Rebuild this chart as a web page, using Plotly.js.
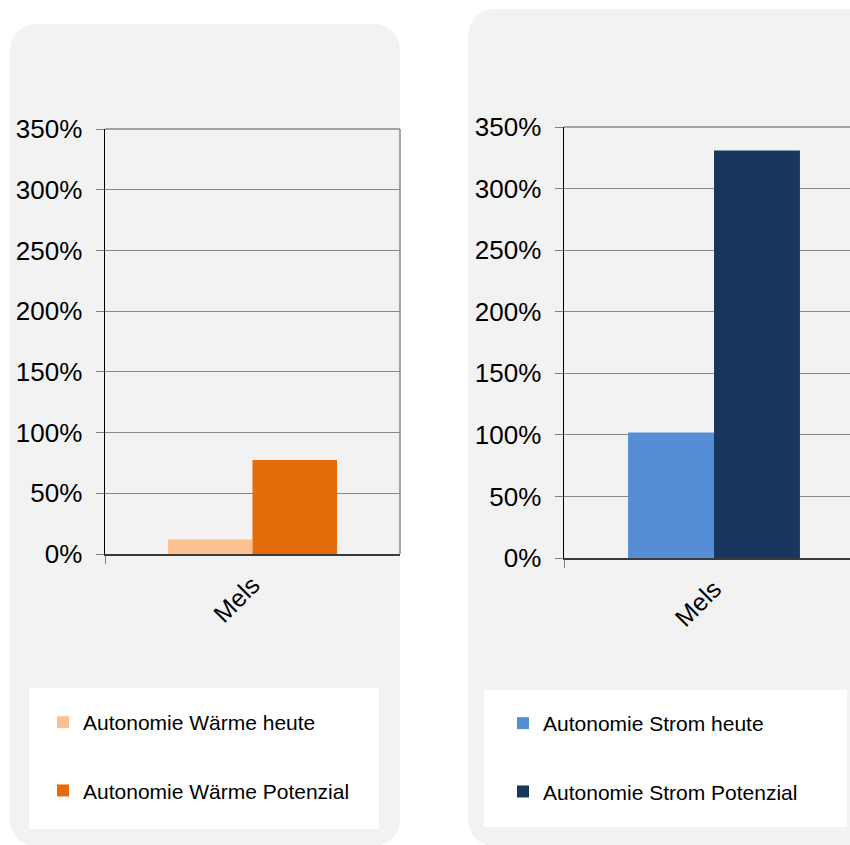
<!DOCTYPE html>
<html><head><meta charset="utf-8">
<script src="https://cdn.plot.ly/plotly-3.0.1.min.js"></script>
<style>
html,body{margin:0;padding:0;width:850px;height:845px;overflow:hidden;background:#fff;}
#wrap{position:relative;width:850px;height:845px;overflow:hidden;}
.panel{position:absolute;background:#f2f2f2;border-radius:26px;}
.lbox{position:absolute;background:#fff;}
#chart{position:absolute;left:0;top:0;width:900px;height:845px;}
</style></head><body>
<div id="wrap">
<div class="panel" style="left:10px;top:24px;width:390px;height:822px;"></div>
<div class="panel" style="left:468px;top:9px;width:420px;height:837px;"></div>
<div class="lbox" style="left:29px;top:688px;width:350px;height:141px;"></div>
<div class="lbox" style="left:484px;top:690px;width:363px;height:137px;"></div>
<div id="chart"></div>
</div>
<script>
const categories = ['Mels'];
const waermeHeute = [12];
const waermePotenzial = [77.5];
const stromHeute = [102];
const stromPotenzial = [331];
const namesWaerme = ['Autonomie Wärme heute', 'Autonomie Wärme Potenzial'];
const namesStrom = ['Autonomie Strom heute', 'Autonomie Strom Potenzial'];
const yTicks = [0, 50, 100, 150, 200, 250, 300, 350];
const yTickLabels = ['0%', '50%', '100%', '150%', '200%', '250%', '300%', '350%'];

const W = 900, H = 845;
const FONT = 'Arial, "Liberation Sans", sans-serif';

function bar(x, y, name, color, xa, ya, lg, grp) {
  return {type: 'bar', x: x, y: y, name: name, marker: {color: color, line: {width: 0}},
    xaxis: xa, yaxis: ya, legend: lg, legendgroup: grp, hoverinfo: 'skip'};
}
const data = [
  bar(categories, waermeHeute, namesWaerme[0], '#FAC090', 'x', 'y', 'legend', 'a'),
  bar(categories, waermePotenzial, namesWaerme[1], '#E46C0A', 'x', 'y', 'legend', 'b'),
  bar(categories, stromHeute, namesStrom[0], '#558ED5', 'x2', 'y2', 'legend2', 'c'),
  bar(categories, stromPotenzial, namesStrom[1], '#17375E', 'x2', 'y2', 'legend2', 'd')
];

function xax(d0, d1, anchor) {
  return {domain: [d0 / W, d1 / W], anchor: anchor, type: 'category', range: [-0.5, 0.5],
    tickson: 'boundaries', ticks: 'outside', ticklen: 8, tickcolor: '#808080', tickwidth: 1,
    showline: true, linecolor: '#3a3a3a', linewidth: 1.5, showgrid: false, zeroline: false,
    tickangle: -45, tickfont: {size: 25, color: '#000', family: FONT}, ticklabelstandoff: 5,
    fixedrange: true};
}
function yax(b, t, anchor) {
  return {domain: [(H - b) / H, (H - t) / H], anchor: anchor, range: [0, 350],
    tickmode: 'array', tickvals: yTicks, ticktext: yTickLabels,
    ticks: 'outside', ticklen: 8, tickcolor: '#808080', tickwidth: 1,
    showline: true, linecolor: '#000', linewidth: 1.5, showgrid: true, gridcolor: '#888888',
    gridwidth: 1, zeroline: false, tickfont: {size: 26, color: '#000', family: FONT},
    ticklabelstandoff: 8, fixedrange: true};
}
function leg(x, yTop) {
  return {x: x / W, y: (H - yTop) / H, xanchor: 'left', yanchor: 'top', bgcolor: 'rgba(0,0,0,0)',
    borderwidth: 0, font: {size: 21, color: '#000', family: FONT}, traceorder: 'grouped',
    tracegroupgap: 38, itemwidth: 30, itemclick: false, itemdoubleclick: false};
}

const layout = {
  width: W, height: H, margin: {l: 0, r: 0, t: 0, b: 0},
  paper_bgcolor: 'rgba(0,0,0,0)', plot_bgcolor: 'rgba(0,0,0,0)',
  font: {family: FONT, color: '#000'},
  barmode: 'group', bargap: 0.427, bargroupgap: 0,
  xaxis: xax(105, 400, 'y'), yaxis: yax(554, 129, 'x'),
  xaxis2: xax(564, 864, 'y2'), yaxis2: yax(558, 127, 'x2'),
  legend: leg(43, 702), legend2: leg(503, 703),
  showlegend: true,
  shapes: [
    {type: 'line', xref: 'x domain', yref: 'y domain', x0: 1, x1: 1, y0: 0, y1: 1,
      line: {color: '#888888', width: 1.5}},
    {type: 'line', xref: 'x domain', yref: 'y domain', x0: 0, x1: 1, y0: 1, y1: 1,
      line: {color: '#888888', width: 1.5}},
    {type: 'line', xref: 'x2 domain', yref: 'y2 domain', x0: 1, x1: 1, y0: 0, y1: 1,
      line: {color: '#888888', width: 1.5}},
    {type: 'line', xref: 'x2 domain', yref: 'y2 domain', x0: 0, x1: 1, y0: 1, y1: 1,
      line: {color: '#888888', width: 1.5}}
  ]
};
Plotly.newPlot('chart', data, layout, {displayModeBar: false, staticPlot: true});
</script>
</body></html>
